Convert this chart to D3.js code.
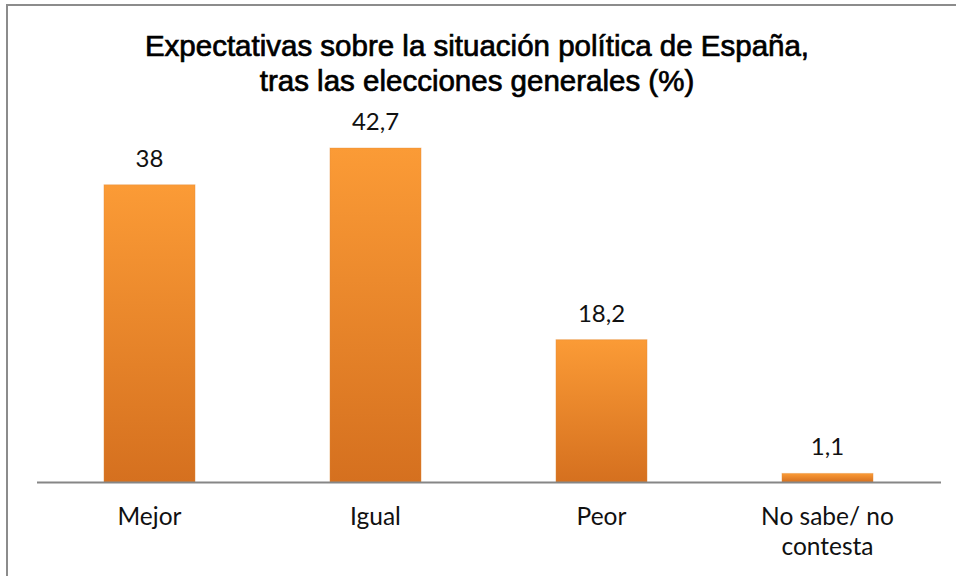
<!DOCTYPE html>
<html>
<head>
<meta charset="utf-8">
<script src="https://cdn.jsdelivr.net/npm/d3@7"></script>
<style>
  html, body { margin: 0; padding: 0; background: #fff; }
  svg { display: block; }
</style>
</head>
<body>
<svg id="chart" width="956" height="576"></svg>
<script>
const categories = ["Mejor", "Igual", "Peor", "No sabe/ no contesta"];
const categoryLines = [["Mejor"], ["Igual"], ["Peor"], ["No sabe/ no", "contesta"]];
const values = [38, 42.7, 18.2, 1.1];
const valueLabels = ["38", "42,7", "18,2", "1,1"];
const titleLines = ["Expectativas sobre la situación política de España,", "tras las elecciones generales (%)"];

const svg = d3.select("#chart");
const W = 956, H = 576;

// frame
svg.append("path")
  .attr("d", `M7,${H + 2} L7,5 L${W + 2},5`)
  .attr("fill", "none")
  .attr("stroke", "#8c8c8c")
  .attr("stroke-width", 2);

const defs = svg.append("defs");
const grad = defs.append("linearGradient")
  .attr("id", "barGrad").attr("x1", 0).attr("y1", 0).attr("x2", 0).attr("y2", 1);
grad.append("stop").attr("offset", "0%").attr("stop-color", "#FB9B36");
grad.append("stop").attr("offset", "100%").attr("stop-color", "#D5701F");

const x = d3.scaleBand()
  .domain(categories)
  .range([36.5, 940.5])
  .paddingInner(0.597)
  .paddingOuter(0.2985);

const y = d3.scaleLinear()
  .domain([0, 42.7])
  .range([482, 148]);

// bars
svg.append("g").selectAll("rect")
  .data(categories)
  .join("rect")
  .attr("x", d => x(d))
  .attr("width", x.bandwidth())
  .attr("y", (d, i) => y(values[i]))
  .attr("height", (d, i) => y(0) - y(values[i]))
  .attr("fill", "url(#barGrad)")
  .attr("stroke", "#e08a3a")
  .attr("stroke-opacity", 0.35)
  .attr("stroke-width", 1);

// axis
const axis = d3.axisBottom(x).tickSize(0).tickFormat("");
const gAxis = svg.append("g")
  .attr("transform", `translate(0,${y(0)})`)
  .call(axis);
gAxis.select(".domain").attr("stroke", "#868686").attr("stroke-width", 2.2);

// category labels
const catG = svg.append("g")
  .attr("font-family", "Lato, 'Open Sans', sans-serif")
  .attr("font-size", 24.5)
  .attr("fill", "#111");
categories.forEach((c, i) => {
  const t = catG.append("text")
    .attr("x", x(c) + x.bandwidth() / 2)
    .attr("y", 525)
    .attr("text-anchor", "middle");
  categoryLines[i].forEach((ln, j) => {
    t.append("tspan")
      .attr("x", x(c) + x.bandwidth() / 2)
      .attr("dy", j === 0 ? 0 : 30)
      .text(ln);
  });
});

// value labels
svg.append("g")
  .attr("font-family", "Lato, 'Open Sans', sans-serif")
  .attr("font-size", 24)
  .attr("fill", "#111")
  .selectAll("text")
  .data(categories)
  .join("text")
  .attr("x", d => x(d) + x.bandwidth() / 2)
  .attr("y", (d, i) => y(values[i]) - 18)
  .attr("text-anchor", "middle")
  .text((d, i) => valueLabels[i]);

// title
const title = svg.append("text")
  .attr("font-family", "'Liberation Sans', Arial, sans-serif")
  .attr("font-size", 29.5)
  .attr("fill", "#000")
  .attr("stroke", "#000")
  .attr("stroke-width", 0.7)
  .attr("text-anchor", "middle");
titleLines.forEach((ln, j) => {
  title.append("tspan")
    .attr("x", 477)
    .attr("y", 56 + j * 35)
    .text(ln);
});
</script>
</body>
</html>
